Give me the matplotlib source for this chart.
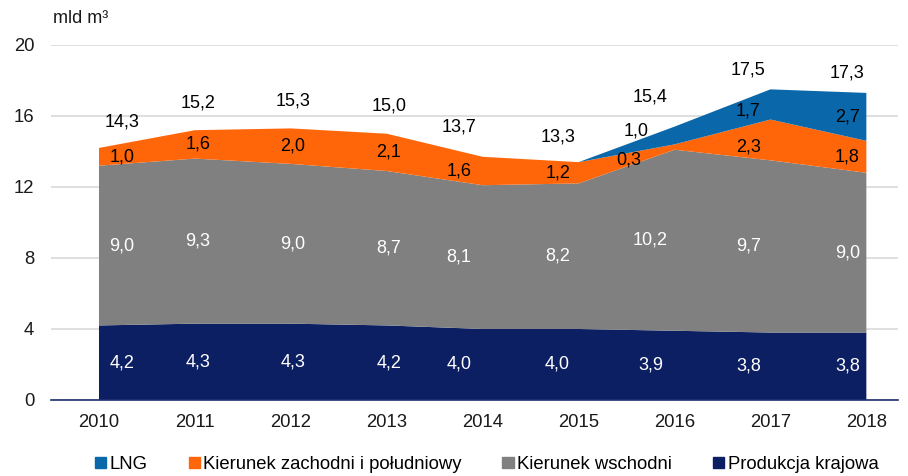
import matplotlib
matplotlib.use("Agg")
import numpy as np
import matplotlib.pyplot as plt
from matplotlib.patches import Patch

plt.rcParams['font.family'] = ['Liberation Sans', 'DejaVu Sans']

years = ['2010', '2011', '2012', '2013', '2014', '2015', '2016', '2017', '2018']
produkcja = [4.2, 4.3, 4.3, 4.2, 4.0, 4.0, 3.9, 3.8, 3.8]
wschodni = [9.0, 9.3, 9.0, 8.7, 8.1, 8.2, 10.2, 9.7, 9.0]
zachodni = [1.0, 1.6, 2.0, 2.1, 1.6, 1.2, 0.3, 2.3, 1.8]
lng = [0.0, 0.0, 0.0, 0.0, 0.0, 0.0, 1.0, 1.7, 2.7]
razem = [14.3, 15.2, 15.3, 15.0, 13.7, 13.3, 15.4, 17.5, 17.3]

c_prod = '#0c1f62'
c_wsch = '#808080'
c_zach = '#ff6609'
c_lng = '#0a67a9'

# przesuniecia etykiet w pikselach (jak w Excelu)
dx = [23, 3, 2, 2, -24, -21, -24, -22, -19]
dy_tot = [26, 27, 27, 28, 30, 25, 30, 19, 20]

x = np.arange(len(years))
warstwy = np.vstack([produkcja, wschodni, zachodni, lng])

fig = plt.figure(figsize=(9.08, 4.76), dpi=100)
ax = fig.add_axes([0.0562, 0.1597, 0.9328, 0.7458])

ax.stackplot(x, warstwy, colors=[c_prod, c_wsch, c_zach, c_lng], linewidth=0)

ax.set_xlim(-0.5, 8.33)
ax.set_ylim(0, 20)
ax.set_yticks([0, 4, 8, 12, 16, 20])
ax.set_xticks(x)
ax.set_xticklabels(years)
ax.tick_params(axis='both', length=0, labelsize=13.3, colors='#1a1a1a')
ax.tick_params(axis='y', pad=12)
ax.tick_params(axis='x', pad=10)
ax.grid(axis='y', color='#d9d9d9', linewidth=1.2)
ax.set_axisbelow(True)
for s in ['top', 'right', 'left']:
    ax.spines[s].set_visible(False)
ax.spines['bottom'].set_color('#1f2f70')
ax.spines['bottom'].set_linewidth(1.2)


def fmt(v):
    return f'{v:.1f}'.replace('.', ',')


def etykieta(i, y, txt, color, ox=0, oy=0):
    ax.annotate(txt, (x[i], y), xytext=(dx[i] + ox, oy), textcoords='offset pixels',
                ha='center', va='center', fontsize=13, color=color)


dol = np.zeros(len(years))
for seria, kol in [(produkcja, 'white'), (wschodni, 'white'), (zachodni, 'black'), (lng, 'black')]:
    for i, v in enumerate(seria):
        if v > 0:
            ox, oy = 0, 0
            if seria is zachodni and i == 6:
                ox, oy = -22, -13
            if seria is lng and i == 6:
                ox, oy = -14, 5
            if i == 7 and (seria is zachodni or seria is lng):
                oy = -7
            etykieta(i, dol[i] + v / 2, fmt(v), kol, ox, oy)
    dol += np.array(seria)

for i, v in enumerate(razem):
    top = produkcja[i] + wschodni[i] + zachodni[i] + lng[i]
    etykieta(i, top, fmt(v), 'black', 0, dy_tot[i])

fig.text(0.058, 0.962, 'mld m³', fontsize=13, ha='left', va='center', color='#1a1a1a')

uchwyty = [Patch(color=c_lng, label='LNG'),
           Patch(color=c_zach, label='Kierunek zachodni i południowy'),
           Patch(color=c_wsch, label='Kierunek wschodni'),
           Patch(color=c_prod, label='Produkcja krajowa')]
fig.legend(handles=uchwyty, loc='center', bbox_to_anchor=(0.536, 0.024), ncol=4,
           frameon=False, fontsize=13.3, handlelength=0.6, handleheight=0.6,
           handletextpad=0.2, columnspacing=2.2)

fig.savefig('out.png', dpi=100)
